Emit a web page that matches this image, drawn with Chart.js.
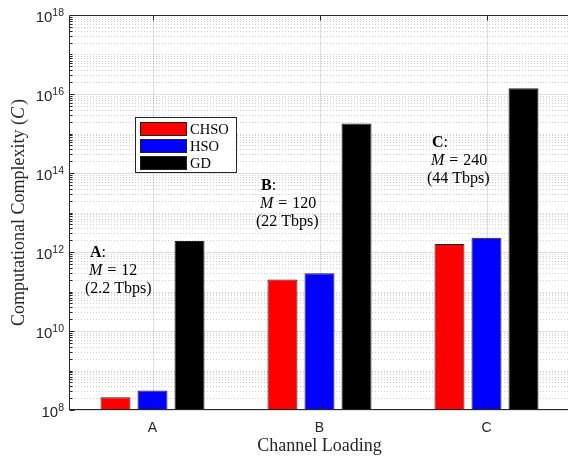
<!DOCTYPE html>
<html><head><meta charset="utf-8">
<script src="https://cdn.jsdelivr.net/npm/chart.js@4.4.1/dist/chart.umd.min.js"></script>
<style>
html,body{margin:0;padding:0;overflow:hidden;background:#fff;width:568px;height:458px}
#wrap{width:570px;height:458px;position:relative}
</style>
</head><body><div id="wrap"><canvas id="c" width="570" height="458"></canvas></div>
<script>
// ---- data ----
const categories = ['A', 'B', 'C'];
const seriesNames = ['CHSO', 'HSO', 'GD'];
const chsoValues = [2.1e8, 2.0e11, 1.6e12];
const hsoValues  = [3.1e8, 2.9e11, 2.3e12];
const gdValues   = [1.9e12, 1.8e15, 1.4e16];
const yMin = 1e8, yMax = 1e18;
const yTickExponents = [8, 10, 12, 14, 16, 18];
const annBold = ['A', 'B', 'C'];
const annM = ['12', '120', '240'];
const annRate = ['(2.2 Tbps)', '(22 Tbps)', '(44 Tbps)'];
const xTitle = 'Channel Loading';
const yTitle = 'Computational Complexity (';

// ---- styles ----
const seriesColors = ['#ff0000', '#0000ff', '#000000'];
const axisColor = '#262626';
const SANS = '"Liberation Sans", Arial, sans-serif';
const SERIF = '"Liberation Serif", "Times New Roman", serif';
const annLeft = [90, 261, 432];
const annBase = [257, 190, 147];

const plugin = {
  id: 'matlabLook',
  beforeDatasetsDraw(chart) {
    const {ctx, chartArea: a, scales: {x, y}} = chart;
    ctx.save();
    ctx.lineWidth = 1;
    // minor grid (dotted)
    ctx.setLineDash([1, 2]);
    ctx.strokeStyle = 'rgba(38,38,38,0.22)';
    for (let e = 8; e < 18; e++) {
      for (let m = 1; m < 10; m++) {
        const v = m * Math.pow(10, e);
        if (v <= yMin || v >= yMax) continue;
        if (m === 1 && e % 2 === 0) continue;
        const py = Math.round(y.getPixelForValue(v)) + 0.5;
        ctx.beginPath(); ctx.moveTo(a.left, py); ctx.lineTo(a.right, py); ctx.stroke();
      }
    }
    // major grid
    ctx.setLineDash([]);
    ctx.strokeStyle = 'rgba(38,38,38,0.15)';
    yTickExponents.forEach(e => {
      const py = Math.round(y.getPixelForValue(Math.pow(10, e))) + 0.5;
      ctx.beginPath(); ctx.moveTo(a.left, py); ctx.lineTo(a.right, py); ctx.stroke();
    });
    categories.forEach((c, i) => {
      const px = Math.round(x.getPixelForValue(i)) + 0.5;
      ctx.beginPath(); ctx.moveTo(px, a.top); ctx.lineTo(px, a.bottom); ctx.stroke();
    });
    ctx.restore();
  },
  afterDatasetsDraw(chart) {
    const {ctx, chartArea: a, scales: {x, y}} = chart;
    ctx.save();
    ctx.strokeStyle = axisColor;
    ctx.lineWidth = 1;
    ctx.setLineDash([]);
    const L = Math.round(a.left) + 0.5, T = Math.round(a.top) + 0.5, B = Math.round(a.bottom) - 0.5;
    ctx.beginPath();
    ctx.moveTo(L, B); ctx.lineTo(L, T); ctx.lineTo(a.right, T);
    ctx.moveTo(L, B); ctx.lineTo(a.right, B);
    ctx.stroke();
    // y ticks inward
    ctx.beginPath();
    for (let e = 8; e < 18; e++) {
      for (let m = 1; m < 10; m++) {
        const v = m * Math.pow(10, e);
        if (v < yMin || v > yMax) continue;
        const major = (m === 1 && e % 2 === 0);
        const py = Math.round(y.getPixelForValue(v)) + 0.5;
        ctx.moveTo(L, py); ctx.lineTo(L + (major ? 5 : 3), py);
      }
    }
    // x ticks top & bottom
    categories.forEach((c, i) => {
      const px = Math.round(x.getPixelForValue(i)) + 0.5;
      ctx.moveTo(px, B); ctx.lineTo(px, B - 5);
      ctx.moveTo(px, T); ctx.lineTo(px, T + 5);
    });
    ctx.stroke();

    // y tick labels 10^e
    ctx.fillStyle = axisColor;
    ctx.textBaseline = 'alphabetic';
    yTickExponents.forEach(e => {
      const py = y.getPixelForValue(Math.pow(10, e));
      const sup = String(e);
      ctx.font = '10.5px ' + SANS;
      const ws = ctx.measureText(sup).width;
      ctx.font = '15px ' + SANS;
      const wb = ctx.measureText('10').width;
      const right = a.left - 5;
      ctx.textAlign = 'left';
      ctx.fillText('10', right - ws - wb, py + 7);
      ctx.font = '10.5px ' + SANS;
      ctx.fillText(sup, right - ws, py + 0.5);
    });

    // x title
    ctx.font = '18px ' + SERIF;
    ctx.textAlign = 'center';
    ctx.fillText(xTitle, (a.left + a.right) / 2, 451);

    // y title (rotated)
    ctx.save();
    ctx.translate(24, (a.top + a.bottom) / 2);
    ctx.rotate(-Math.PI / 2);
    ctx.textAlign = 'left';
    ctx.font = '18px ' + SERIF;
    const w1 = ctx.measureText(yTitle).width;
    ctx.font = 'italic 18px ' + SERIF;
    const w2 = ctx.measureText('C').width;
    ctx.font = '18px ' + SERIF;
    const w3 = ctx.measureText(')').width;
    let sx = -(w1 + w2 + w3 + 2) / 2;
    ctx.fillText(yTitle, sx, 0); sx += w1;
    ctx.font = 'italic 18px ' + SERIF;
    ctx.fillText('C', sx, 0); sx += w2 + 2;
    ctx.font = '18px ' + SERIF;
    ctx.fillText(')', sx, 0);
    ctx.restore();

    // annotations
    ctx.fillStyle = '#000';
    ctx.textAlign = 'left';
    for (let i = 0; i < annBold.length; i++) {
      let ax = annLeft[i], ay = annBase[i];
      ctx.font = 'bold 16px ' + SERIF;
      ctx.fillText(annBold[i], ax, ay);
      const wb = ctx.measureText(annBold[i]).width;
      ctx.font = '16px ' + SERIF;
      ctx.fillText(':', ax + wb, ay);
      // M = n
      let mx = ax - 1;
      ctx.font = 'italic 16px ' + SERIF;
      ctx.fillText('M', mx, ay + 18);
      mx += ctx.measureText('M').width + 5;
      ctx.font = '16px ' + SERIF;
      ctx.fillText('=', mx, ay + 18);
      mx += ctx.measureText('=').width + 5;
      ctx.fillText(annM[i], mx, ay + 18);
      ctx.fillText(annRate[i], ax - 5, ay + 36);
    }

    // legend
    const lx = 135.5, ly = 117.5, lw = 101, lh = 55;
    ctx.fillStyle = '#fff';
    ctx.fillRect(lx, ly, lw, lh);
    ctx.strokeStyle = axisColor;
    ctx.strokeRect(lx, ly, lw, lh);
    const rows = [122, 139, 156];
    chart.data.datasets.forEach((ds, i) => {
      ctx.fillStyle = ds.backgroundColor;
      ctx.fillRect(140.5, rows[i] + 0.5, 46, 13);
      ctx.strokeStyle = '#222';
      ctx.strokeRect(140.5, rows[i] + 0.5, 46, 13);
      ctx.fillStyle = '#000';
      ctx.font = '14.5px ' + SERIF;
      ctx.textBaseline = 'alphabetic';
      ctx.fillText(ds.label, 190, rows[i] + 12);
    });
    ctx.restore();
  }
};

new Chart(document.getElementById('c'), {
  type: 'bar',
  data: {
    labels: categories,
    datasets: [chsoValues, hsoValues, gdValues].map((vals, i) => ({
      label: seriesNames[i],
      data: vals,
      backgroundColor: seriesColors[i],
      borderColor: '#222',
      borderWidth: 1,
      borderSkipped: false,
      categoryPercentage: 0.665,
      barPercentage: 0.81
    }))
  },
  options: {
    responsive: false,
    animation: false,
    devicePixelRatio: 1,
    layout: {padding: {top: 15, left: 0, right: 0, bottom: 0}},
    plugins: {legend: {display: false}, tooltip: {enabled: false}},
    scales: {
      x: {
        type: 'category',
        offset: true,
        grid: {display: false, drawTicks: false},
        border: {display: false},
        ticks: {font: {family: SANS, size: 14}, color: axisColor, padding: 10},
        afterFit(s) { s.height = 48; }
      },
      y: {
        type: 'logarithmic',
        min: yMin,
        max: yMax,
        grid: {display: false, drawTicks: false},
        border: {display: false},
        ticks: {display: false},
        afterFit(s) { s.width = 69; }
      }
    }
  },
  plugins: [plugin]
});
</script>
</body></html>
